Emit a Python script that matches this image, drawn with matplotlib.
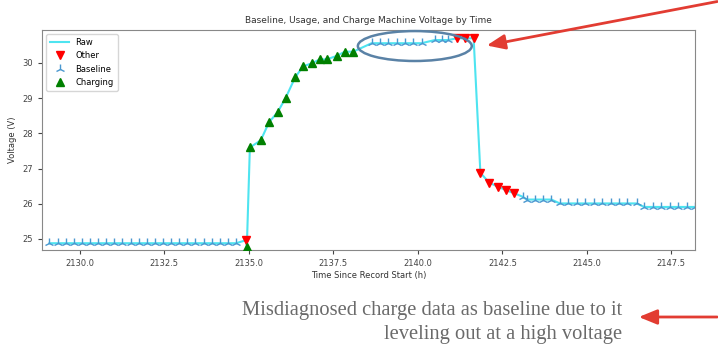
import numpy as np
import matplotlib
matplotlib.use("Agg")
import matplotlib.pyplot as plt
from matplotlib.patches import Ellipse

# machine voltage samples, split by class
baseline_t = [2129.10, 2129.34, 2129.58, 2129.82, 2130.06, 2130.30, 2130.54, 2130.78,
              2131.02, 2131.26, 2131.50, 2131.74, 2131.98, 2132.22, 2132.46, 2132.70,
              2132.94, 2133.18, 2133.42, 2133.66, 2133.90, 2134.14, 2134.38, 2134.62,
              2138.63, 2138.88, 2139.13, 2139.37, 2139.62, 2139.87, 2140.11,
              2140.50, 2140.70, 2140.90,
              2143.10, 2143.22, 2143.46, 2143.71, 2143.95,
              2144.20, 2144.45, 2144.70, 2144.95, 2145.20, 2145.45, 2145.70, 2145.95,
              2146.20, 2146.47,
              2146.70, 2146.95, 2147.20, 2147.45, 2147.70, 2147.95, 2148.20]
baseline_v = [24.88, 24.88, 24.88, 24.88, 24.88, 24.88, 24.88, 24.88,
              24.88, 24.88, 24.88, 24.88, 24.88, 24.88, 24.88, 24.88,
              24.88, 24.88, 24.88, 24.88, 24.88, 24.88, 24.88, 24.88,
              30.56, 30.56, 30.56, 30.56, 30.56, 30.56, 30.56,
              30.65, 30.65, 30.65,
              26.20, 26.12, 26.12, 26.12, 26.12,
              26.01, 26.01, 26.01, 26.01, 26.01, 26.01, 26.01, 26.01,
              26.01, 26.01,
              25.91, 25.91, 25.91, 25.91, 25.91, 25.91, 25.91]

other_t = [2134.93, 2141.15, 2141.40, 2141.65, 2141.85, 2142.11, 2142.36, 2142.60, 2142.85]
other_v = [24.97, 30.70, 30.70, 30.70, 26.88, 26.60, 26.49, 26.39, 26.30]

charging_t = [2134.94, 2135.03, 2135.35, 2135.60, 2135.85, 2136.09, 2136.37, 2136.60,
              2136.86, 2137.10, 2137.30, 2137.60, 2137.84, 2138.09]
charging_v = [24.78, 27.60, 27.80, 28.32, 28.60, 29.01, 29.59, 29.90,
              29.99, 30.10, 30.10, 30.20, 30.32, 30.32]

x_ticks = [2130.0, 2132.5, 2135.0, 2137.5, 2140.0, 2142.5, 2145.0, 2147.5]
y_ticks = [25, 26, 27, 28, 29, 30]

# raw trace runs through every sample in time order
raw_t = np.array(baseline_t + other_t + charging_t)
raw_v = np.array(baseline_v + other_v + charging_v)
order = np.argsort(raw_t, kind="stable")
raw_t, raw_v = raw_t[order], raw_v[order]

fig = plt.figure(figsize=(7.18, 3.51), dpi=100)
ax = fig.add_axes([0.0585, 0.288, 0.9095, 0.627])

ax.plot(raw_t, raw_v, color="#4ee4f0", lw=1.5, label="Raw", zorder=1)
ax.plot(other_t, other_v, "v", color="red", ms=5.5, ls="none", label="Other", zorder=3)
ax.plot(baseline_t, baseline_v, "2", color="#4a98d0", ms=7, mew=1.0, ls="none",
        label="Baseline", zorder=2)
ax.plot(charging_t, charging_v, "^", color="green", ms=5.5, ls="none", label="Charging", zorder=3)

ax.set_xlim(2128.88, 2148.2)
ax.set_ylim(24.69, 30.94)
ax.set_xticks(x_ticks)
ax.set_xticklabels([f"{t:.1f}" for t in x_ticks])
ax.set_yticks(y_ticks)
ax.tick_params(labelsize=6, colors="#444444", length=3)
for s in ax.spines.values():
    s.set_color("#888888")

ax.set_title("Baseline, Usage, and Charge Machine Voltage by Time", fontsize=6.5,
             color="#333333", pad=5)
ax.set_xlabel("Time Since Record Start (h)", fontsize=6, color="#333333", labelpad=2)
ax.set_ylabel("Voltage (V)", fontsize=6, color="#333333", labelpad=4)
ax.legend(loc="upper left", fontsize=6, frameon=True, handlelength=2.2,
          borderpad=0.5, labelspacing=0.5)

# highlight of the high-voltage plateau
ax.add_patch(Ellipse((2139.91, 30.48), 3.37, 0.85, fill=False, ec="#5a82a6",
                     lw=1.8, clip_on=False, zorder=4))

arrow_kw = dict(arrowstyle="-|>,head_length=1.1,head_width=0.45", color="#e23c32", lw=2)
ax.annotate("", xy=(484, 305), xycoords="figure pixels", xytext=(720, 350),
            textcoords="figure pixels", arrowprops=arrow_kw, annotation_clip=False)
ax.annotate("", xy=(636, 34), xycoords="figure pixels", xytext=(720, 34),
            textcoords="figure pixels", arrowprops=arrow_kw, annotation_clip=False)

fig.text(622 / 718, 1 - 310 / 351, "Misdiagnosed charge data as baseline due to it",
         ha="right", va="center", family="Liberation Serif", fontsize=14.8, color="#6a6a6a")
fig.text(622 / 718, 1 - 334 / 351, "leveling out at a high voltage",
         ha="right", va="center", family="Liberation Serif", fontsize=14.8, color="#6a6a6a")

fig.savefig("out.png", dpi=100)
